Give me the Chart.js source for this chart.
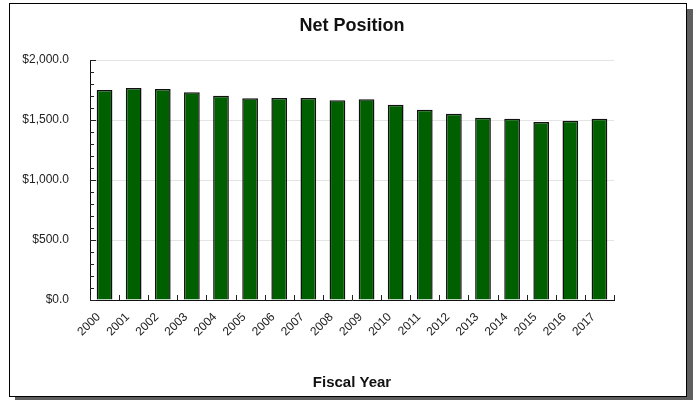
<!DOCTYPE html>
<html>
<head>
<meta charset="utf-8">
<script src="https://cdn.jsdelivr.net/npm/chart.js@4"></script>
<style>
  html, body { margin: 0; padding: 0; background: #fff; }
  body { width: 694px; height: 400px; position: relative; overflow: hidden; }
  .frame {
    position: absolute; left: 9px; top: 3px; width: 678px; height: 394px;
    box-sizing: border-box; border: 1px solid #000; background: #fff;
    box-shadow: 6px 6px 0 #5f5f5f;
  }
  .wrap { position: absolute; left: 9px; top: 0; width: 685px; height: 400px; }
</style>
</head>
<body>
<div class="frame"></div>
<div class="wrap"><canvas id="chart"></canvas></div>
<script>
const years = ['2000', '2001', '2002', '2003', '2004', '2005', '2006', '2007', '2008',
               '2009', '2010', '2011', '2012', '2013', '2014', '2015', '2016', '2017']
const netPosition = [1750, 1767, 1758, 1731, 1703, 1681, 1683, 1683, 1664,
                     1672, 1628, 1586, 1553, 1519, 1511, 1483, 1494, 1511]
const yMax = 2000
const yStep = 500
const yMinorStep = 100

const FONT = 'Arial, "Liberation Sans", sans-serif'

// tick marks drawn inside the plot (y) and between categories (x)
const axisTicks = {
    id: 'axisTicks',
    afterDraw(chart) {
        const {ctx, scales: {x, y}, chartArea} = chart
        ctx.save()
        ctx.strokeStyle = '#222'
        ctx.lineWidth = 1
        ctx.beginPath()
        for (let v = 0; v <= yMax; v += yMinorStep) {
            const py = Math.round(y.getPixelForValue(v)) + 0.5
            const len = v % yStep === 0 ? 6 : 4
            ctx.moveTo(chartArea.left, py)
            ctx.lineTo(chartArea.left + len, py)
        }
        const step = x.getPixelForValue(1) - x.getPixelForValue(0)
        for (let i = 0; i <= years.length; i++) {
            const px = Math.round(x.getPixelForValue(i) - step / 2) + 0.5
            ctx.moveTo(px, chartArea.bottom)
            ctx.lineTo(px, chartArea.bottom - 5)
        }
        ctx.stroke()
        ctx.restore()
    }
}

new Chart(document.getElementById('chart'), {
    type: 'bar',
    data: {
        labels: years,
        datasets: [{
            label: 'Net Position',
            data: netPosition,
            backgroundColor: '#006000',
            borderColor: '#111',
            borderWidth: 1.5,
            barPercentage: 0.54,
            categoryPercentage: 1
        }]
    },
    options: {
        responsive: true,
        maintainAspectRatio: false,
        animation: false,
        layout: {padding: {left: 0, right: 80, top: 0, bottom: 0}},
        plugins: {
            legend: {display: false},
            tooltip: {enabled: false},
            title: {
                display: true,
                fullSize: false,
                text: 'Net Position',
                color: '#111',
                font: {family: FONT, size: 18, weight: 'bold'},
                padding: {top: 15, bottom: 23.4}
            }
        },
        scales: {
            x: {
                grid: {display: false},
                border: {display: true, color: '#111', width: 1},
                ticks: {
                    autoSkip: false,
                    minRotation: 45,
                    maxRotation: 45,
                    padding: 2,
                    labelOffset: -6,
                    color: '#222',
                    font: {family: FONT, size: 12}
                },
                title: {
                    display: true,
                    text: 'Fiscal Year',
                    color: '#111',
                    font: {family: FONT, size: 15, weight: 'bold'},
                    padding: {top: 0, bottom: 8}
                },
                afterFit(axis) { axis.height = 100 }
            },
            y: {
                min: 0,
                max: yMax,
                grid: {color: '#e4e4e4', drawTicks: false},
                border: {display: true, color: '#111', width: 1},
                ticks: {
                    stepSize: yStep,
                    padding: 21,
                    color: '#222',
                    font: {family: FONT, size: 12},
                    callback: (value) => '$' + value.toLocaleString('en-US', {minimumFractionDigits: 1, maximumFractionDigits: 1})
                },
                afterFit(axis) { axis.width = 81 }
            }
        }
    },
    plugins: [axisTicks]
})
</script>
</body>
</html>
